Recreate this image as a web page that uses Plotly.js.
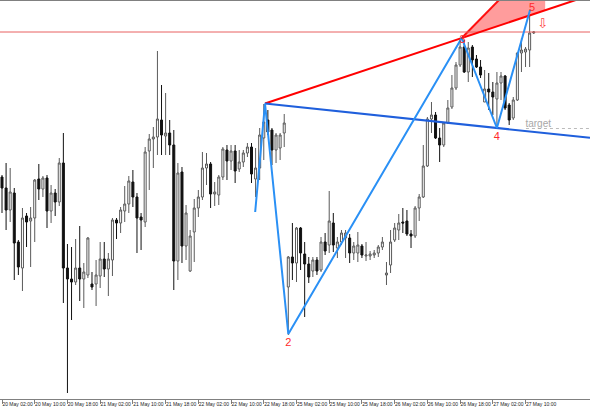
<!DOCTYPE html>
<html>
<head>
<meta charset="utf-8">
<script src="https://cdn.plot.ly/plotly-3.0.1.min.js"></script>
<style>html,body{margin:0;padding:0;background:#fff}#chart{width:590px;height:410px}</style>
</head>
<body>
<div id="chart"></div>
<script>
const opens = [223,212,190,207,158,132,184,179,182,221,211,222,189,207,198,237,132,121,118,132,121,125,116,116,124,141,131,140,180,177,189,196,218,203,183,178,249,261,263,280,264,267,255,139,228,154,129,168,192,203,232,236,206,205,223,250,239,249,231,238,247,253,221,232,262,280,270,250,252,267,113,143,137,172,146,136,129,140,130,158,155,177,152,158,162,162,147,147,154,144,144,145,147,153,125,135,160,170,178,179,166,164,192,203,234,281,285,262,255,277,293,312,335,353,328,353,341,333,298,311,308,301,317,324,295,282,300,347,348,350,367];
const highs = [225,237,232,212,160,192,187,193,221,236,224,225,215,211,242,267,156,153,161,174,137,163,128,140,158,158,147,182,182,193,214,224,230,207,187,253,266,273,349,315,307,280,270,237,233,195,170,201,210,248,247,238,218,225,253,255,255,255,250,250,257,257,252,272,296,290,272,267,267,286,144,177,173,173,158,143,143,143,163,167,209,187,163,170,170,166,158,168,156,158,149,150,155,163,138,170,177,186,192,190,170,194,206,255,283,298,288,272,278,300,325,338,362,360,358,355,345,340,330,327,318,328,328,325,297,303,348,362,353,389,369];
const lows  = [187,170,178,120,125,109,153,133,158,200,203,172,177,184,194,97,7,80,115,99,92,122,110,94,112,123,104,124,161,167,178,187,193,147,150,173,210,232,245,245,245,245,110,120,137,140,128,138,183,200,215,192,194,195,220,220,230,217,228,233,243,217,203,220,240,265,235,237,240,253,65,120,118,130,83,117,123,125,128,145,147,148,142,155,142,137,140,138,142,139,140,142,143,150,115,127,158,160,167,164,152,162,179,202,233,267,261,238,253,276,291,310,333,327,318,323,332,322,298,290,285,272,300,290,275,280,299,328,333,333,366];
const closes= [212,190,208,157,133,182,178,182,220,211,222,189,207,198,237,132,121,118,132,121,128,162,113,125,141,131,141,180,177,190,196,219,203,182,180,248,261,263,281,265,267,255,139,227,154,187,164,192,203,232,236,206,208,223,251,239,249,229,238,247,253,226,232,265,278,268,250,265,265,277,143,137,172,147,136,123,140,129,158,149,179,155,158,167,167,147,154,155,145,145,146,147,153,158,127,158,172,177,177,166,164,192,203,234,281,285,262,255,277,292,312,335,353,328,352,340,333,325,311,308,303,317,324,292,280,300,347,350,351,367,368];

// x-axis tick labels (every 8 bars)
const tickBars   = [0,8,16,24,32,40,48,56,64,72,80,88,96,104,112,120,128];
const tickLabels = ["20 May 02:00","20 May 10:00","20 May 18:00","21 May 02:00","21 May 10:00","21 May 18:00","22 May 02:00","22 May 10:00","22 May 18:00","25 May 02:00","25 May 10:00","25 May 18:00","26 May 02:00","26 May 10:00","26 May 18:00","27 May 02:00","27 May 10:00"];

// Pattern points (bar index, price)
const zigX = [61.9, 64.3, 70.0, 112.4, 121.0, 129.1];
const zigY = [188, 296.5, 66, 362, 272, 390];
const labelText = ["2","3","4","5"];
const labelX = [70.0, 112.6, 121.0, 129.6];
const labelY = [57, 360, 263, 392];

// red sell zone triangle
const triX = [112.4, 132.8, 132.8];
const triY = [362, 447, 389.8];

const levelPrice = 368;        // thin red horizontal level
const targetPrice = 271.5;     // dotted target level (point 4)
const targetStart = 128.1;
const arrowX = 132.2, arrowY = 375;

const X0 = -0.49, X1 = 143.76;
const labelOffset = 3.8;       // labels start just right of their tick (MetaTrader style)
const bars = opens.map((_, i) => i);
const labelBars = tickBars.map(b => b + labelOffset);

function ray(p, q) { // extend line p->q to right edge
  const s = (q[1]-p[1])/(q[0]-p[0]);
  return {x:[p[0], X1], y:[p[1], p[1] + s*(X1-p[0])]};
}
const P1 = [zigX[1], zigY[1]], P3 = [zigX[3], zigY[3]], P4 = [zigX[4], zigY[4]];
const redRay = ray(P1, P3);
const blueRay = ray(P1, P4);

const traces = [
  {type:'candlestick', x:bars, open:opens, high:highs, low:lows, close:closes,
   increasing:{line:{color:'#5a5a5a', width:1}, fillcolor:'#ffffff'},
   decreasing:{line:{color:'#111111', width:1}, fillcolor:'#111111'},
   whiskerwidth:0, hoverinfo:'skip', showlegend:false},
  {type:'scatter', mode:'lines', x:triX, y:triY, fill:'toself', fillcolor:'#ff9c9c',
   line:{width:0, color:'rgba(0,0,0,0)'}, hoverinfo:'skip', showlegend:false},
  {type:'scatter', mode:'lines', x:[triX[0], triX[1]], y:[triY[0], triY[1]],
   line:{color:'#ff1010', width:2}, hoverinfo:'skip', showlegend:false},
  {type:'scatter', mode:'lines', x:[X0, X1], y:[levelPrice, levelPrice],
   line:{color:'#e86060', width:1}, hoverinfo:'skip', showlegend:false},
  {type:'scatter', mode:'lines', x:[targetStart, X1], y:[targetPrice, targetPrice],
   line:{color:'#bbbbbb', width:1, dash:'dot'}, hoverinfo:'skip', showlegend:false},
  {type:'scatter', mode:'lines', x:redRay.x, y:redRay.y,
   line:{color:'#ff0000', width:2}, hoverinfo:'skip', showlegend:false},
  {type:'scatter', mode:'lines', x:blueRay.x, y:blueRay.y,
   line:{color:'#1f5fdc', width:2}, hoverinfo:'skip', showlegend:false},
  {type:'scatter', mode:'lines', x:zigX, y:zigY,
   line:{color:'#2a90f5', width:2}, hoverinfo:'skip', showlegend:false},
  {type:'scatter', mode:'text', x:labelX, y:labelY, text:labelText,
   textfont:{family:'Liberation Sans, Arial, sans-serif', size:11, color:'#ff2a2a'},
   hoverinfo:'skip', showlegend:false},
  {type:'scatter', mode:'text', x:[targetStart + 3], y:[targetPrice + 4], text:['target'],
   textfont:{family:'Liberation Sans, Arial, sans-serif', size:10, color:'#a8a8a8'},
   hoverinfo:'skip', showlegend:false},
  {type:'scatter', mode:'text', x:[arrowX], y:[arrowY], text:['⇩'],
   textfont:{family:'DejaVu Sans, sans-serif', size:13, color:'#ff4040'},
   hoverinfo:'skip', showlegend:false},
  {type:'scatter', mode:'markers', x:[X0], y:[-100], xaxis:'x2', yaxis:'y',
   marker:{opacity:0}, hoverinfo:'skip', showlegend:false}
];

const layout = {
  width:590, height:410,
  margin:{l:0, r:0, t:1, b:11, pad:0},
  paper_bgcolor:'#ffffff', plot_bgcolor:'#ffffff',
  showlegend:false, boxgap:0.3,
  xaxis:{range:[X0, X1], type:'linear', fixedrange:true,
    rangeslider:{visible:false},
    showgrid:false, zeroline:false,
    showline:true, linecolor:'#808080', linewidth:1, mirror:true,
    ticks:'outside', ticklen:4, tickcolor:'#808080', tickwidth:1,
    tickvals:tickBars, showticklabels:false},
  xaxis2:{range:[X0, X1], type:'linear', overlaying:'x', anchor:'y', side:'bottom',
    fixedrange:true, showgrid:false, zeroline:false, showline:false, ticks:'',
    tickvals:labelBars, ticktext:tickLabels, tickangle:0,
    tickfont:{family:'Liberation Sans Narrow, Liberation Sans, Arial, sans-serif', size:5, color:'#222'},
    ticklabelstandoff:1},
  yaxis:{range:[1, 399], showgrid:false, zeroline:false, showline:false,
    showticklabels:false, ticks:'', fixedrange:true}
};

Plotly.newPlot('chart', traces, layout, {staticPlot:true, displayModeBar:false});
</script>
</body>
</html>
